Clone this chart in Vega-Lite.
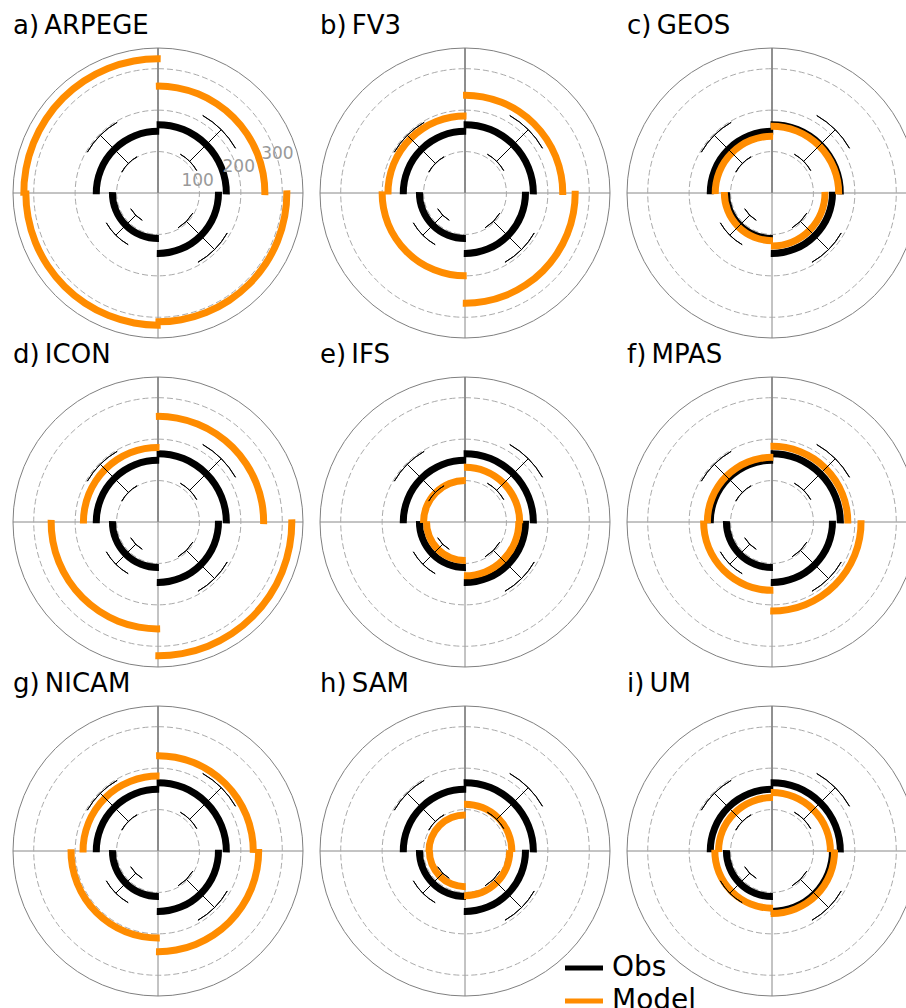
{
  "$schema": "https://vega.github.io/schema/vega-lite/v6.json",
  "background": "white",
  "padding": {"left": 11, "top": 13, "right": 0, "bottom": 0},
  "data": {
    "values": [
      {"panel": "a)\u2009ARPEGE", "sector": 0, "Obs": 165, "Model": 258, "lo": 108, "hi": 216},
      {"panel": "a)\u2009ARPEGE", "sector": 90, "Obs": 146, "Model": 311, "lo": 97, "hi": 193},
      {"panel": "a)\u2009ARPEGE", "sector": 180, "Obs": 110, "Model": 319, "lo": 76, "hi": 144},
      {"panel": "a)\u2009ARPEGE", "sector": 270, "Obs": 149, "Model": 324, "lo": 101, "hi": 197},
      {"panel": "b)\u2009FV3", "sector": 0, "Obs": 165, "Model": 236, "lo": 108, "hi": 216},
      {"panel": "b)\u2009FV3", "sector": 90, "Obs": 146, "Model": 266, "lo": 97, "hi": 193},
      {"panel": "b)\u2009FV3", "sector": 180, "Obs": 110, "Model": 200, "lo": 76, "hi": 144},
      {"panel": "b)\u2009FV3", "sector": 270, "Obs": 149, "Model": 186, "lo": 101, "hi": 197},
      {"panel": "c)\u2009GEOS", "sector": 0, "Obs": 165, "Model": 161, "lo": 108, "hi": 216},
      {"panel": "c)\u2009GEOS", "sector": 90, "Obs": 146, "Model": 128, "lo": 97, "hi": 193},
      {"panel": "c)\u2009GEOS", "sector": 180, "Obs": 110, "Model": 115, "lo": 76, "hi": 144},
      {"panel": "c)\u2009GEOS", "sector": 270, "Obs": 149, "Model": 137, "lo": 101, "hi": 197},
      {"panel": "d)\u2009ICON", "sector": 0, "Obs": 165, "Model": 255, "lo": 108, "hi": 216},
      {"panel": "d)\u2009ICON", "sector": 90, "Obs": 146, "Model": 323, "lo": 97, "hi": 193},
      {"panel": "d)\u2009ICON", "sector": 180, "Obs": 110, "Model": 258, "lo": 76, "hi": 144},
      {"panel": "d)\u2009ICON", "sector": 270, "Obs": 149, "Model": 180, "lo": 101, "hi": 197},
      {"panel": "e)\u2009IFS", "sector": 0, "Obs": 165, "Model": 132, "lo": 108, "hi": 216},
      {"panel": "e)\u2009IFS", "sector": 90, "Obs": 146, "Model": 130, "lo": 97, "hi": 193},
      {"panel": "e)\u2009IFS", "sector": 180, "Obs": 110, "Model": 93, "lo": 76, "hi": 144},
      {"panel": "e)\u2009IFS", "sector": 270, "Obs": 149, "Model": 100, "lo": 101, "hi": 197},
      {"panel": "f)\u2009MPAS", "sector": 0, "Obs": 165, "Model": 183, "lo": 108, "hi": 216},
      {"panel": "f)\u2009MPAS", "sector": 90, "Obs": 146, "Model": 215, "lo": 97, "hi": 193},
      {"panel": "f)\u2009MPAS", "sector": 180, "Obs": 110, "Model": 165, "lo": 76, "hi": 144},
      {"panel": "f)\u2009MPAS", "sector": 270, "Obs": 149, "Model": 156, "lo": 101, "hi": 197},
      {"panel": "g)\u2009NICAM", "sector": 0, "Obs": 165, "Model": 230, "lo": 108, "hi": 216},
      {"panel": "g)\u2009NICAM", "sector": 90, "Obs": 146, "Model": 243, "lo": 97, "hi": 193},
      {"panel": "g)\u2009NICAM", "sector": 180, "Obs": 110, "Model": 210, "lo": 76, "hi": 144},
      {"panel": "g)\u2009NICAM", "sector": 270, "Obs": 149, "Model": 181, "lo": 101, "hi": 197},
      {"panel": "h)\u2009SAM", "sector": 0, "Obs": 165, "Model": 113, "lo": 108, "hi": 216},
      {"panel": "h)\u2009SAM", "sector": 90, "Obs": 146, "Model": 108, "lo": 97, "hi": 193},
      {"panel": "h)\u2009SAM", "sector": 180, "Obs": 110, "Model": 86, "lo": 76, "hi": 144},
      {"panel": "h)\u2009SAM", "sector": 270, "Obs": 149, "Model": 87, "lo": 101, "hi": 197},
      {"panel": "i)\u2009UM", "sector": 0, "Obs": 165, "Model": 141, "lo": 108, "hi": 216},
      {"panel": "i)\u2009UM", "sector": 90, "Obs": 146, "Model": 151, "lo": 97, "hi": 193},
      {"panel": "i)\u2009UM", "sector": 180, "Obs": 110, "Model": 138, "lo": 76, "hi": 144},
      {"panel": "i)\u2009UM", "sector": 270, "Obs": 149, "Model": 129, "lo": 101, "hi": 197}
    ]
  },
  "columns": 3,
  "spacing": {"column": 13, "row": 2},
  "facet": {
    "field": "panel",
    "type": "nominal",
    "header": {
      "title": null,
      "labelFont": "DejaVu Sans",
      "labelFontSize": 26,
      "labelColor": "black",
      "labelAnchor": "start",
      "labelPadding": 7
    }
  },
  "spec": {
    "width": 290,
    "height": 290,
    "layer": [
      {
        "mark": {"type": "arc", "fill": null, "stroke": "#b0b0b0", "strokeWidth": 1},
        "encoding": {
          "theta": {"field": "sector", "type": "quantitative", "stack": null, "scale": {"domain": [0, 360], "range": [0, 6.283185]}},
          "theta2": {"field": "sector"},
          "radius": {"datum": 350, "type": "quantitative", "scale": {"type": "linear", "domain": [0, 350], "range": [0, 145], "zero": true, "nice": false}},
          "radius2": {"datum": 0}
        }
      },
      {
        "transform": [{"filter": "datum.sector == 0"}],
        "mark": {"type": "arc", "fill": null, "stroke": "#aaaaaa", "strokeWidth": 1, "strokeDash": [6, 3]},
        "encoding": {
          "theta": {"datum": 0, "type": "quantitative"},
          "theta2": {"datum": 360},
          "radius": {"datum": 100, "type": "quantitative"}
        }
      },
      {
        "transform": [{"filter": "datum.sector == 0"}],
        "mark": {"type": "arc", "fill": null, "stroke": "#aaaaaa", "strokeWidth": 1, "strokeDash": [6, 3]},
        "encoding": {
          "theta": {"datum": 0, "type": "quantitative"},
          "theta2": {"datum": 360},
          "radius": {"datum": 200, "type": "quantitative"}
        }
      },
      {
        "transform": [{"filter": "datum.sector == 0"}],
        "mark": {"type": "arc", "fill": null, "stroke": "#aaaaaa", "strokeWidth": 1, "strokeDash": [6, 3]},
        "encoding": {
          "theta": {"datum": 0, "type": "quantitative"},
          "theta2": {"datum": 360},
          "radius": {"datum": 300, "type": "quantitative"}
        }
      },
      {
        "transform": [{"filter": "datum.sector == 0"}],
        "mark": {"type": "arc", "fill": null, "stroke": "#808080", "strokeWidth": 1},
        "encoding": {
          "theta": {"datum": 0, "type": "quantitative"},
          "theta2": {"datum": 360},
          "radius": {"datum": 350, "type": "quantitative"}
        }
      },
      {
        "mark": {"type": "arc", "thetaOffset": -0.02, "theta2Offset": 1.5908, "radiusOffset": 3.5, "radius2Offset": -3.5},
        "encoding": {
          "theta": {"field": "sector", "type": "quantitative", "stack": null},
          "theta2": {"field": "sector"},
          "radius": {"field": "Obs", "type": "quantitative"},
          "radius2": {"field": "Obs"},
          "color": {"datum": "Obs", "type": "nominal", "scale": {"domain": ["Obs", "Model"], "range": ["#000000", "#ff8c00"]},
            "legend": {
              "title": null,
              "orient": "none",
              "legendX": 552,
              "legendY": 901,
              "symbolType": "M-1,-0.13H1V0.13H-1Z",
              "symbolSize": 1444,
              "symbolStrokeWidth": 0,
              "labelFont": "DejaVu Sans",
              "labelFontSize": 28,
              "labelColor": "black",
              "labelOffset": 9,
              "rowPadding": -4
            }
          }
        }
      },
      {
        "mark": {"type": "arc", "thetaOffset": -0.02, "theta2Offset": 1.5908, "radiusOffset": 3.5, "radius2Offset": -3.5},
        "encoding": {
          "theta": {"field": "sector", "type": "quantitative", "stack": null},
          "theta2": {"field": "sector"},
          "radius": {"field": "Model", "type": "quantitative"},
          "radius2": {"field": "Model"},
          "color": {"datum": "Model", "type": "nominal"}
        }
      },
      {
        "mark": {"type": "arc", "fill": null, "stroke": "black", "strokeWidth": 1, "thetaOffset": 0.7854, "theta2Offset": 0.7854},
        "encoding": {
          "theta": {"field": "sector", "type": "quantitative", "stack": null},
          "theta2": {"field": "sector"},
          "radius": {"field": "hi", "type": "quantitative"},
          "radius2": {"field": "lo"}
        }
      },
      {
        "mark": {"type": "arc", "fill": null, "stroke": "black", "strokeWidth": 1, "thetaOffset": 0.5236, "theta2Offset": 1.0472},
        "encoding": {
          "theta": {"field": "sector", "type": "quantitative", "stack": null},
          "theta2": {"field": "sector"},
          "radius": {"field": "lo", "type": "quantitative"},
          "radius2": {"field": "lo"}
        }
      },
      {
        "mark": {"type": "arc", "fill": null, "stroke": "black", "strokeWidth": 1, "thetaOffset": 0.5236, "theta2Offset": 1.0472},
        "encoding": {
          "theta": {"field": "sector", "type": "quantitative", "stack": null},
          "theta2": {"field": "sector"},
          "radius": {"field": "hi", "type": "quantitative"},
          "radius2": {"field": "hi"}
        }
      },
      {
        "transform": [{"filter": "datum.sector == 0 && datum.panel == 'a)\u2009ARPEGE'"}],
        "mark": {"type": "text", "font": "DejaVu Sans", "fontSize": 17, "color": "#999999", "align": "center", "baseline": "middle"},
        "encoding": {
          "theta": {"datum": 73, "type": "quantitative"},
          "radius": {"datum": 100, "type": "quantitative"},
          "text": {"value": "100"}
        }
      },
      {
        "transform": [{"filter": "datum.sector == 0 && datum.panel == 'a)\u2009ARPEGE'"}],
        "mark": {"type": "text", "font": "DejaVu Sans", "fontSize": 17, "color": "#999999", "align": "center", "baseline": "middle"},
        "encoding": {
          "theta": {"datum": 72, "type": "quantitative"},
          "radius": {"datum": 205, "type": "quantitative"},
          "text": {"value": "200"}
        }
      },
      {
        "transform": [{"filter": "datum.sector == 0 && datum.panel == 'a)\u2009ARPEGE'"}],
        "mark": {"type": "text", "font": "DejaVu Sans", "fontSize": 17, "color": "#999999", "align": "center", "baseline": "middle"},
        "encoding": {
          "theta": {"datum": 72, "type": "quantitative"},
          "radius": {"datum": 303, "type": "quantitative"},
          "text": {"value": "300"}
        }
      }
    ]
  },
  "config": {
    "view": {"stroke": null}
  }
}
